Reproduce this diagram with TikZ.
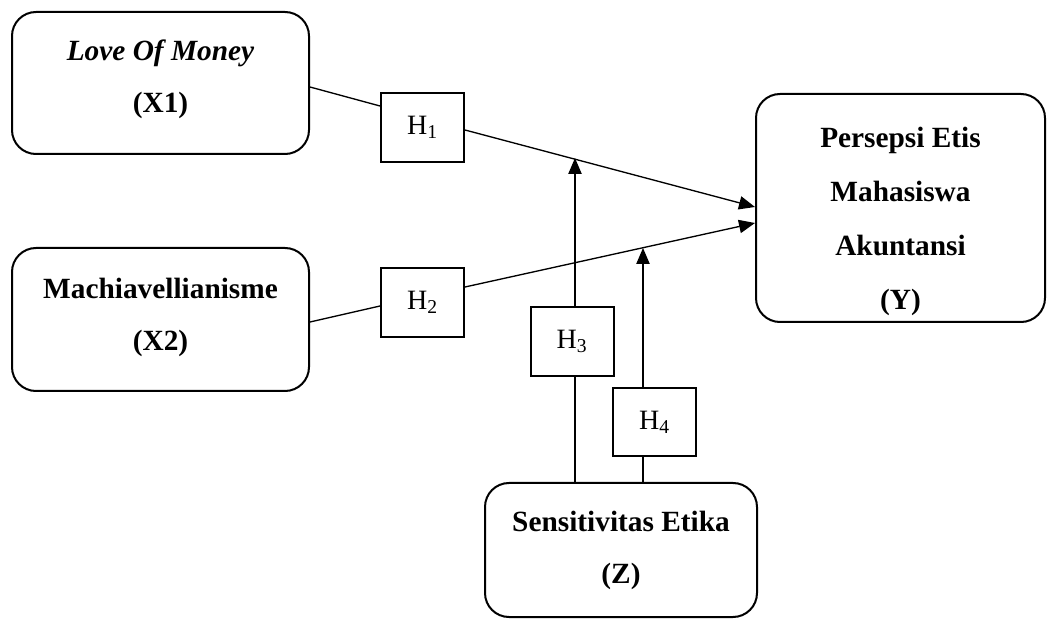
\documentclass[tikz,border=0pt]{standalone}
\usepackage{fontspec}
\setmainfont{Liberation Serif}
\usetikzlibrary{arrows.meta,calc}
\newcommand\boxlines[2]{\raisebox{#1}[\height][\depth]{\begin{tabular}{@{}c@{}}#2\end{tabular}}}
\begin{document}
\begin{tikzpicture}[x=0.75pt,y=-0.75pt,
  var/.style={draw,line width=1.5pt,rounded corners=18pt,inner sep=0pt,
    font=\fontsize{22}{39}\selectfont\bfseries},
  hyp/.style={draw,line width=1.5pt,inner sep=0pt,minimum width=62.25pt,minimum height=51.75pt,
    font=\fontsize{21}{25}\selectfont},
  conn/.style={line width=1pt},
  arr/.style={conn,-{Triangle[length=12pt,width=10pt]}}]
\useasboundingbox (0,0) rectangle (1047,620);
% variable boxes
\node[var,minimum width=222.75pt,minimum height=106.5pt] (X1) at (160.5,83) {\boxlines{5pt}{\textit{Love Of Money}\\(X1)}};
\node[var,minimum width=222.75pt,minimum height=107.25pt] (X2) at (160.5,319.5) {\boxlines{3.75pt}{Machiavellianisme\\(X2)}};
\node[var,minimum width=216.75pt,minimum height=171pt,font=\fontsize{22}{40.5}\selectfont\bfseries] (Y) at (900.5,208) {\boxlines{-7pt}{Persepsi Etis\\Mahasiswa\\Akuntansi\\(Y)}};
\node[var,minimum width=204pt,minimum height=100.5pt] (Z) at (621,550) {\boxlines{2.25pt}{Sensitivitas Etika\\(Z)}};
% hypothesis boxes
\node[hyp] (H1) at (422.5,127.5) {H\textsubscript{1}};
\node[hyp] (H2) at (422.5,302.5) {H\textsubscript{2}};
\node[hyp] (H3) at (572,341.5) {H\textsubscript{3}};
\node[hyp,minimum height=51pt] (H4) at (654.5,422) {H\textsubscript{4}};
% moderation target points
\coordinate (m1) at (575,158);
\coordinate (m2) at (643,248);
% connectors
\draw[conn] ($(X1.east)+(0,4)$) -- ($(H1.west)+(0,-21.5)$);
\draw[arr] ($(H1.east)+(0,2.5)$) -- ($(Y.west)+(0,-1)$);
\draw[conn] ($(X2.east)+(0,2.5)$) -- ($(H2.west)+(0,3.5)$);
\draw[arr] ($(H2.east)+(0,-15.5)$) -- ($(Y.west)+(0,15)$);
\draw[conn] (Z.north -| m1) -- (H3.south -| m1);
\draw[arr] (H3.north -| m1) -- (m1);
\draw[conn] (Z.north -| m2) -- (H4.south -| m2);
\draw[arr] (H4.north -| m2) -- (m2);
\end{tikzpicture}
\end{document}
